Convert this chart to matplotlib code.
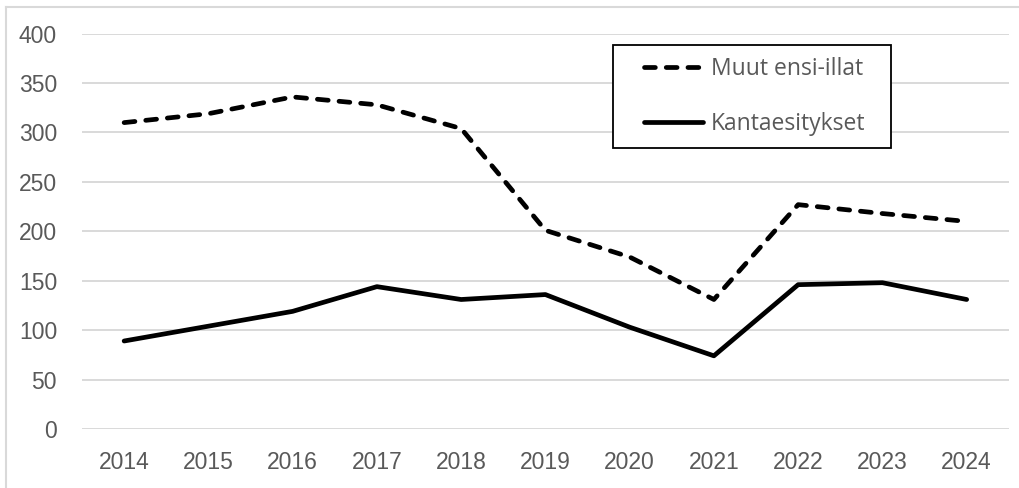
import matplotlib
matplotlib.use("Agg")
import matplotlib.pyplot as plt
from matplotlib.lines import Line2D
from matplotlib.patches import Rectangle

years = [2014, 2015, 2016, 2017, 2018, 2019, 2020, 2021, 2022, 2023, 2024]
muut_ensi_illat = [310, 319, 336, 328, 304, 201, 174, 131, 227, 218, 210]
kantaesitykset = [89, 104, 119, 144, 131, 136, 103, 74, 146, 148, 131]
y_ticks = [0, 50, 100, 150, 200, 250, 300, 350, 400]

fig = plt.figure(figsize=(10.2, 4.88), dpi=100)
ax = fig.add_axes([0.0804, 0.121, 0.9086, 0.810])

ax.plot(years, muut_ensi_illat, color="black", lw=3.4, ls=(0, (2.3, 2.3)),
        dash_capstyle="round", dash_joinstyle="round", label="Muut ensi-illat")
ax.plot(years, kantaesitykset, color="black", lw=3.4, solid_capstyle="round",
        solid_joinstyle="round", label="Kantaesitykset")

ax.set_xlim(2013.5, 2024.5)
ax.set_ylim(0, 400)
ax.set_yticks(y_ticks)
ax.set_xticks(years)
ax.set_xticklabels([str(y) for y in years])
ax.grid(axis="y", color="#d9d9d9", lw=1.4)
ax.set_axisbelow(True)
for s in ax.spines.values():
    s.set_visible(False)
ax.tick_params(length=0, labelsize=16.5, labelcolor="#595959")
ax.tick_params(axis="x", pad=16)
ax.tick_params(axis="y", pad=18)
for lab in ax.get_xticklabels() + ax.get_yticklabels():
    lab.set_fontfamily("Liberation Sans")

# legend: framed box with the entries centred inside it
box_x, box_y, box_w, box_h = 0.5728, 0.7109, 0.2999, 0.2605
ax.add_patch(Rectangle((box_x, box_y), box_w, box_h, transform=ax.transAxes,
                       facecolor="white", edgecolor="black", lw=1.3, zorder=4))
leg = ax.legend(loc="center", bbox_to_anchor=(box_x + box_w / 2 + 0.003, box_y + box_h / 2),
                frameon=False, prop={"family": "Open Sans", "size": 16.5},
                handlelength=2.6, handletextpad=0.35, labelspacing=1.35,
                borderpad=0, borderaxespad=0)
leg.set_zorder(5)
for t in leg.get_texts():
    t.set_color("#595959")

# chart area outline (top and left edges)
fig.add_artist(Line2D([6 / 1020, 1.0], [1 - 7 / 488, 1 - 7 / 488],
                      transform=fig.transFigure, color="#d9d9d9", lw=1.5))
fig.add_artist(Line2D([6 / 1020, 6 / 1020], [0, 1 - 7 / 488],
                      transform=fig.transFigure, color="#d9d9d9", lw=1.5))

fig.savefig("out.png", dpi=100)
